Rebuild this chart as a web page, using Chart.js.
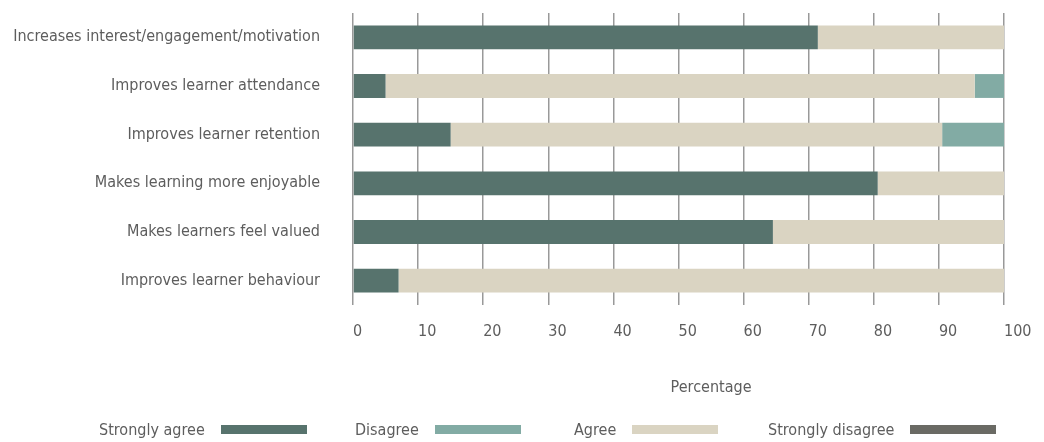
<!DOCTYPE html>
<html>
<head>
<meta charset="utf-8">
<script src="https://cdn.jsdelivr.net/npm/chart.js@4"></script>
<style>
  body { margin: 0; background: #fff; }
  #wrap { position: relative; width: 1044px; height: 442px; }
  #legend {
    position: absolute; left: 0; top: 420px; width: 1044px; height: 22px;
    font-family: "DejaVu Sans Condensed", "Liberation Sans Narrow", sans-serif;
    font-stretch: condensed;
    font-size: 16px; color: #5d5d5d;
  }
  #legend .item { position: absolute; top: 0; display: flex; align-items: center; gap: 16px; }
  #legend .box { width: 86px; height: 9px; }
</style>
</head>
<body>
<div id="wrap">
  <canvas id="myChart" width="1044" height="442"></canvas>
  <div id="legend"></div>
</div>
<script>
const categories = [
  "Increases interest/engagement/motivation",
  "Improves learner attendance",
  "Improves learner retention",
  "Makes learning more enjoyable",
  "Makes learners feel valued",
  "Improves learner behaviour"
]
const stronglyAgree = [71.4, 5, 15, 80.6, 64.5, 7]
const agree = [28.6, 90.5, 75.5, 19.4, 35.5, 93]
const disagree = [0, 4.5, 9.5, 0, 0, 0]
const stronglyDisagree = [0, 0, 0, 0, 0, 0]
const xTicks = [0, 10, 20, 30, 40, 50, 60, 70, 80, 90, 100]
const legendOrder = ["Strongly agree", "Disagree", "Agree", "Strongly disagree"]
const legendLeft = [99, 355, 574, 768]

const FONT = "'DejaVu Sans Condensed', 'Liberation Sans Narrow', sans-serif"
const TEXT = "#5d5d5d"

const datasets = [
  { label: "Strongly agree", data: stronglyAgree, backgroundColor: "#57736d" },
  { label: "Agree", data: agree, backgroundColor: "#dad4c2" },
  { label: "Disagree", data: disagree, backgroundColor: "#82aba4" },
  { label: "Strongly disagree", data: stronglyDisagree, backgroundColor: "#6a6a64" }
]
datasets.forEach(d => {
  d.categoryPercentage = 0.5
  d.barPercentage = 0.98
  d.borderWidth = 0
})

// axis title sits a bit right of centre in the original
const axisTitle = {
  id: "axisTitle",
  afterDraw(chart) {
    const ctx = chart.ctx
    const x = chart.scales.x
    ctx.save()
    ctx.font = "condensed 16px " + FONT
    ctx.fillStyle = TEXT
    ctx.textAlign = "center"
    ctx.textBaseline = "middle"
    ctx.fillText("Percentage", x.getPixelForValue(55), chart.chartArea.bottom + 83)
    ctx.restore()
  }
}

new Chart(document.getElementById("myChart"), {
  type: "bar",
  data: { labels: categories, datasets: datasets },
  plugins: [axisTitle],
  options: {
    indexAxis: "y",
    responsive: false,
    animation: false,
    layout: { padding: { top: 13, right: 40, left: 0, bottom: 0 } },
    plugins: { legend: { display: false }, tooltip: { enabled: false } },
    scales: {
      x: {
        stacked: true,
        min: 0,
        max: 100,
        afterBuildTicks: s => { s.ticks = xTicks.map(v => ({ value: v })) },
        afterFit: s => { s.height = 137; s.paddingLeft = 0; s.paddingRight = 0 },
        grid: { color: "#999999", lineWidth: 1.5, drawTicks: false },
        border: { display: false },
        ticks: { align: "start", padding: 17, color: TEXT, font: { family: FONT, size: 16, style: "condensed" } }
      },
      y: {
        stacked: true,
        afterFit: s => { s.width = 353; s.paddingTop = 0; s.paddingBottom = 0 },
        grid: { display: false },
        border: { display: false },
        ticks: { padding: 25, color: TEXT, font: { family: FONT, size: 16, style: "condensed" } }
      }
    }
  }
})

const legend = document.getElementById("legend")
legendOrder.forEach((name, i) => {
  const ds = datasets.find(d => d.label == name)
  const item = document.createElement("div")
  item.className = "item"
  item.style.left = legendLeft[i] + "px"
  item.innerHTML = `<span>${name}</span><span class="box" style="background:${ds.backgroundColor}"></span>`
  legend.appendChild(item)
})
</script>
</body>
</html>
